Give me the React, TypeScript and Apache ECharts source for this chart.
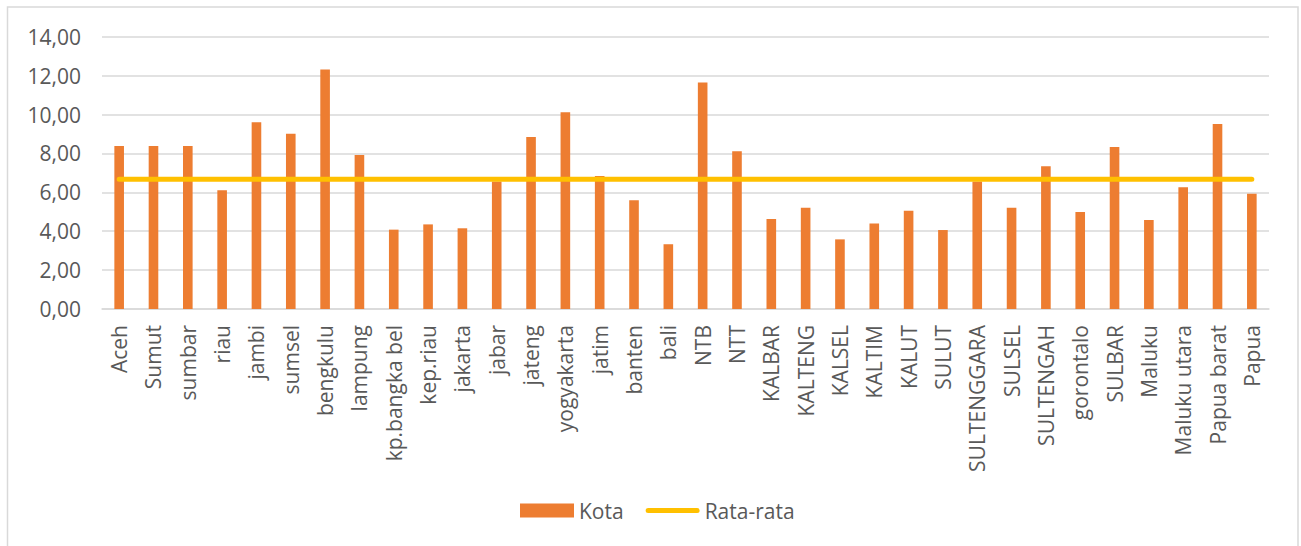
import React, { useEffect, useRef } from "react";
import * as echarts from "echarts";

const categories: string[] = [
  "Aceh", "Sumut", "sumbar", "riau", "jambi", "sumsel", "bengkulu", "lampung",
  "kp.bangka bel", "kep.riau", "jakarta", "jabar", "jateng", "yogyakarta", "jatim",
  "banten", "bali", "NTB", "NTT", "KALBAR", "KALTENG", "KALSEL", "KALTIM", "KALUT",
  "SULUT", "SULTENGGARA", "SULSEL", "SULTENGAH", "gorontalo", "SULBAR", "Maluku",
  "Maluku utara", "Papua barat", "Papua",
];

const kotaValues: number[] = [
  8.38, 8.38, 8.38, 6.10, 9.60, 9.01, 12.32, 7.92,
  4.08, 4.35, 4.15, 6.55, 8.84, 10.11, 6.84,
  5.59, 3.33, 11.65, 8.11, 4.63, 5.21, 3.58, 4.40, 5.05,
  4.06, 6.55, 5.21, 7.34, 4.99, 8.33, 4.58,
  6.26, 9.51, 5.93,
];

const rataRata = 6.67;
const rataValues: number[] = categories.map(() => rataRata);

const yTicks = { min: 0, max: 14, interval: 2 };

const FONT = "'Open Sans', 'DejaVu Sans', sans-serif";
const TEXT = "#595959";
const GRID = "#D9D9D9";

export default function App() {
  const ref = useRef<HTMLDivElement>(null);

  useEffect(() => {
    if (!ref.current) return;
    const chart = echarts.init(ref.current, undefined, { renderer: "svg" });
    chart.setOption({
      animation: false,
      backgroundColor: "#ffffff",
      textStyle: { fontFamily: FONT },
      graphic: [
        {
          type: "rect",
          shape: { x: 7.5, y: 7, width: 1290.5, height: 580 },
          style: { fill: "none", stroke: GRID, lineWidth: 1.5 },
          silent: true,
          z: -1,
        },
      ],
      grid: { left: 102, right: 32, top: 36.7, bottom: 237, containLabel: false },
      legend: {
        left: 515,
        top: 495,
        itemWidth: 54,
        itemHeight: 14,
        itemGap: 22,
        textStyle: { fontFamily: FONT, fontSize: 21, color: TEXT },
        data: [
          { name: "Kota", icon: "rect" },
          {
            name: "Rata-rata",
            icon: "path://M0,0 M54,14 M2.5,4.5 L51.5,4.5 A2.5,2.5 0 0 1 51.5,9.5 L2.5,9.5 A2.5,2.5 0 0 1 2.5,4.5 Z",
          },
        ],
      },
      xAxis: {
        type: "category",
        data: categories,
        boundaryGap: true,
        axisLine: { show: true, lineStyle: { color: GRID, width: 1.5 } },
        axisTick: { show: false },
        axisLabel: {
          interval: 0,
          rotate: 90,
          margin: 16,
          fontFamily: FONT,
          fontSize: 21,
          color: TEXT,
        },
      },
      yAxis: {
        type: "value",
        min: yTicks.min,
        max: yTicks.max,
        interval: yTicks.interval,
        axisLine: { show: false },
        axisTick: { show: false },
        splitLine: { show: true, lineStyle: { color: GRID, width: 1.5 } },
        axisLabel: {
          margin: 21,
          fontFamily: FONT,
          fontSize: 21,
          color: TEXT,
          formatter: (v: number) => v.toFixed(2).replace(".", ","),
        },
      },
      series: [
        {
          name: "Kota",
          type: "bar",
          data: kotaValues,
          barWidth: "28%",
          itemStyle: { color: "#ED7D31" },
          z: 2,
        },
        {
          name: "Rata-rata",
          type: "line",
          data: rataValues,
          symbol: "none",
          showSymbol: false,
          lineStyle: { color: "#FFC000", width: 5, cap: "round" },
          itemStyle: { color: "#FFC000" },
          z: 3,
        },
      ],
    });
    return () => chart.dispose();
  }, []);

  return (
    <div
      ref={ref}
      style={{ position: "absolute", left: 0, top: 0, width: 1301, height: 546 }}
    />
  );
}
